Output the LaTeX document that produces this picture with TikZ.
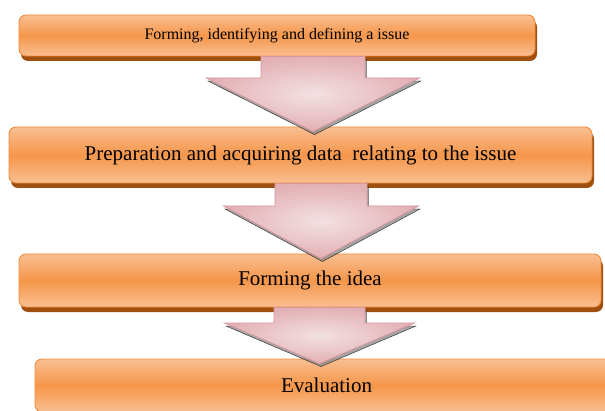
\documentclass[tikz,border=0pt]{standalone}
\usepackage{fontspec}
\setmainfont{Liberation Serif}
\usetikzlibrary{shadows,calc}

\definecolor{stagemid}{HTML}{F5964A}
\definecolor{stagelight}{HTML}{F9BF91}
\definecolor{stageedge}{HTML}{F08C3C}
\definecolor{stagedark}{HTML}{A0500E}
\definecolor{arrowlight}{HTML}{F3E0E2}
\definecolor{arrowdark}{HTML}{E2B0B5}
\definecolor{arrowedge}{HTML}{D8979D}

\tikzset{
	stagebox/.style={rectangle, rounded corners=7pt, draw=stageedge, line width=0.9pt,
		top color=stagelight, bottom color=stagelight, middle color=stagemid,
		drop shadow={shadow xshift=2pt, shadow yshift=-5pt, fill=stagedark, opacity=1},
		inner sep=0pt, font=\fontsize{21}{25}\selectfont},
	stagearrow/.style={draw=arrowedge, line width=0.8pt, inner color=arrowlight, outer color=arrowdark},
	arrowshade/.style={fill=black!45, opacity=0.8, transform canvas={shift={(1.5pt,-3pt)}}}
}

% #1 from, #2 to, #3 x of centre, #4 half shaft, #5 half head, #6 y of head base
\newcommand{\stagestep}[6]{%
	\foreach \sty in {arrowshade,stagearrow}
		\draw[\sty] ($(#3,0 |- #1.south)+(-#4,0)$) -- ($(#3,#6)+(-#4,0)$) -- ($(#3,#6)+(-#5,0)$)
		-- ($(#3,0 |- #2.north)+(0,-5)$) -- ($(#3,#6)+(#5,0)$) -- ($(#3,#6)+(#4,0)$)
		-- ($(#3,0 |- #1.south)+(#4,0)$) -- cycle;
}

\begin{document}
\begin{tikzpicture}[x=1pt,y=1pt]
	\clip (0,0) rectangle (605,410);

	\node[stagebox, minimum width=516, minimum height=41, font=\fontsize{16}{19}\selectfont]
		(define) at (277,374.5) {\raisebox{-4pt}{Forming, identifying and defining a issue}};
	\node[stagebox, minimum width=583, minimum height=56] (prepare) at (300.5,255)
		{Preparation and acquiring data \ relating to the issue};
	\node[stagebox, minimum width=582, minimum height=53] (idea) at (310,129.5) {Forming the idea};
	\node[stagebox, minimum width=583, minimum height=53] (evaluate) at (326.5,24.5) {Evaluation};

	\stagestep{define}{prepare}{313}{52}{106.5}{332}
	\stagestep{prepare}{idea}{321}{46}{97.5}{204}
	\stagestep{idea}{evaluate}{319.5}{45.5}{95}{87}
\end{tikzpicture}
\end{document}
